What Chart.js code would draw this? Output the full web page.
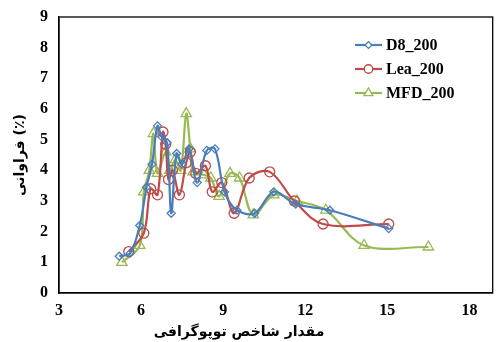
<!DOCTYPE html>
<html lang="fa">
<head>
<meta charset="UTF-8">
<title>فراوانی شاخص توپوگرافی</title>
<script src="https://cdn.jsdelivr.net/npm/chart.js"></script>
<style>
  body { margin: 0; background: #fff; }
  #wrap { width: 500px; height: 342px; }
</style>
</head>
<body>
<div id="wrap"><canvas id="freqChart" width="500" height="342"></canvas></div>
<script>
// داده ها
const d8X   = [5.2, 5.6, 5.95, 6.2, 6.4, 6.6, 6.75, 6.95, 7.1, 7.3, 7.5, 7.75, 8.05, 8.4, 8.7, 9.05, 9.5, 10.15, 10.85, 11.65, 12.9, 15.05];
const d8Y   = [1.2, 1.3, 2.2, 3.45, 4.2, 5.45, 5.1, 4.9, 2.6, 4.55, 4.2, 4.7, 3.6, 4.65, 4.7, 3.3, 2.7, 2.6, 3.3, 2.9, 2.7, 2.1];
const leaX  = [5.55, 6.1, 6.35, 6.6, 6.8, 6.9, 7.0, 7.15, 7.4, 7.65, 7.8, 8.0, 8.35, 8.6, 8.95, 9.4, 9.95, 10.7, 11.6, 12.65, 15.05];
const leaY  = [1.35, 1.95, 3.4, 3.2, 5.25, 4.85, 3.7, 4.0, 3.2, 4.25, 4.6, 3.9, 4.15, 3.3, 3.6, 2.6, 3.75, 3.95, 3.0, 2.25, 2.25];
const mfdX  = [5.3, 5.95, 6.1, 6.3, 6.45, 6.6, 6.9, 7.05, 7.25, 7.45, 7.65, 7.8, 7.9, 8.3, 8.55, 8.85, 9.25, 9.6, 10.1, 10.85, 11.7, 12.75, 14.15, 16.5];
const mfdY  = [1.0, 1.55, 3.3, 4.0, 5.2, 3.9, 4.6, 4.0, 4.35, 4.0, 5.85, 4.7, 3.95, 3.85, 3.75, 3.15, 3.9, 3.75, 2.55, 3.2, 3.0, 2.7, 1.55, 1.5];
const xTicks = [3, 6, 9, 12, 15, 18];
const yTicks = [0, 1, 2, 3, 4, 5, 6, 7, 8, 9];

function pts(xs, ys) {
    return xs.map((x, i) => ({ x: x, y: ys[i] }));
}

const serif = 'Liberation Serif, Times New Roman, serif';
const faFont = 'DejaVu Sans, Noto Sans, sans-serif';

function mkSet(label, xs, ys, color, style, r) {
    return {
        label: label,
        data: pts(xs, ys),
        showLine: true,
        borderColor: color,
        backgroundColor: 'rgba(255,255,255,0)',
        borderWidth: 2.2,
        pointStyle: style,
        pointRadius: r,
        pointBorderWidth: 1.3,
        tension: 0.35
    };
}

// legend inside the plot + x axis title
const innerLegend = {
    id: 'innerLegend',
    afterDraw(chart) {
        const ctx = chart.ctx;
        const rows = [45, 69, 93];
        chart.data.datasets.forEach((ds, i) => {
            const y = rows[i];
            ctx.save();
            ctx.strokeStyle = ds.borderColor;
            ctx.lineWidth = 2.2;
            ctx.beginPath();
            ctx.moveTo(355, y);
            ctx.lineTo(382, y);
            ctx.stroke();
            ctx.lineWidth = 1.3;
            ctx.fillStyle = '#fff';
            Chart.helpers.drawPoint(ctx, { pointStyle: ds.pointStyle, radius: ds.pointRadius * 0.85, borderWidth: 1.3 }, 368.5, y);
            ctx.fillStyle = '#000';
            ctx.font = 'bold 16px ' + serif;
            ctx.textBaseline = 'middle';
            ctx.textAlign = 'left';
            ctx.fillText(ds.label, 386, y + 1);
            ctx.restore();
        });
        ctx.save();
        ctx.fillStyle = '#000';
        ctx.font = 'bold 14px ' + faFont;
        ctx.textAlign = 'center';
        ctx.textBaseline = 'alphabetic';
        ctx.fillText('مقدار شاخص توپوگرافی', 239, 336);
        ctx.restore();
    }
};

new Chart(document.getElementById('freqChart'), {
    type: 'scatter',
    data: {
        datasets: [
            mkSet('D8_200', d8X, d8Y, '#4A7EBB', 'rectRot', 4),
            mkSet('Lea_200', leaX, leaY, '#BE4B48', 'circle', 5),
            mkSet('MFD_200', mfdX, mfdY, '#98B954', 'triangle', 6)
        ]
    },
    options: {
        responsive: false,
        animation: false,
        layout: { padding: { top: 17, right: 7, left: 0, bottom: 0 } },
        plugins: {
            legend: { display: false },
            tooltip: { enabled: false }
        },
        scales: {
            x: {
                type: 'linear',
                min: 3,
                max: 18.85,
                afterBuildTicks: s => { s.ticks = xTicks.map(v => ({ value: v })); },
                afterFit: s => { s.height = 49; },
                grid: { display: false, drawTicks: true, tickLength: 5, tickColor: '#000' },
                border: { display: true, color: '#000', width: 1.3 },
                ticks: { color: '#000', font: { family: serif, size: 16, weight: 'bold' }, padding: 3, maxRotation: 0 }
            },
            y: {
                min: 0,
                max: 9,
                afterBuildTicks: s => { s.ticks = yTicks.map(v => ({ value: v })); },
                afterFit: s => { s.width = 59; },
                grid: { display: false, drawTicks: true, tickLength: 5, tickColor: '#000' },
                border: { display: true, color: '#000', width: 1.3 },
                ticks: { color: '#000', font: { family: serif, size: 16, weight: 'bold' }, padding: 6 },
                title: { display: true, text: 'فراوانی (٪)', color: '#000', font: { family: faFont, size: 14, weight: 'bold' }, padding: { top: 12, bottom: 0 } }
            }
        }
    },
    plugins: [innerLegend, {
        id: 'frame',
        afterDraw(chart) {
            const a = chart.chartArea, ctx = chart.ctx;
            ctx.save();
            ctx.strokeStyle = '#000';
            ctx.lineWidth = 1.3;
            ctx.strokeRect(a.left, a.top, a.right - a.left, a.bottom - a.top);
            ctx.restore();
        }
    }]
});
</script>
</body>
</html>
